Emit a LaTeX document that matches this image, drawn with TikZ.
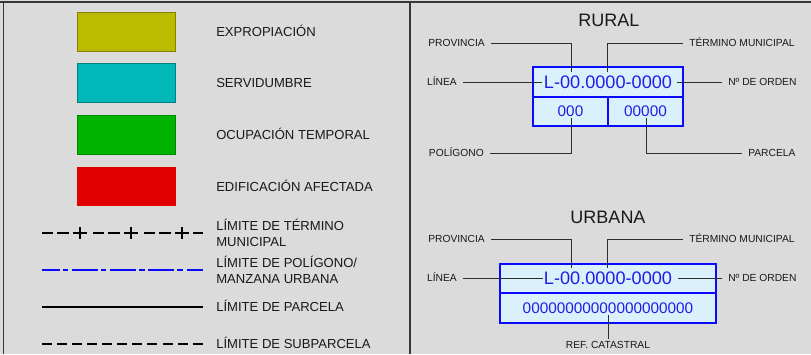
\documentclass[tikz,border=0pt]{standalone}
\usepackage{fontspec}
\setmainfont{Liberation Sans}
\usepackage{xcolor}
\usepackage{tikz}
\usetikzlibrary{positioning}
\definecolor{mygray}{RGB}{219,219,219}
\definecolor{myframe}{RGB}{55,55,55}
\definecolor{myyellow}{RGB}{187,187,0}
\definecolor{mycyan}{RGB}{0,184,184}
\definecolor{mygreen}{RGB}{0,180,0}
\definecolor{myred}{RGB}{224,0,0}
\definecolor{myblue}{RGB}{10,10,255}
\definecolor{codeblue}{RGB}{30,30,230}
\definecolor{cellfill}{RGB}{218,240,250}
\definecolor{mydark}{RGB}{25,25,25}
\definecolor{myleader}{RGB}{45,45,45}
\tikzset{
  swatch/.style={rectangle, minimum width=73.5pt, minimum height=29pt, inner sep=0pt, line width=0.6pt},
  legtext/.style={anchor=west, inner sep=0pt, font=\fontsize{9.8}{12}\selectfont, text=mydark},
  onerow/.style={text height=7pt, text depth=0pt},
  tag/.style={inner xsep=4.5pt, inner ysep=2pt, font=\fontsize{7.7}{9}\selectfont, text=mydark, text height=5.5pt, text depth=0pt},
  codebox/.style={rectangle, draw=myblue, fill=cellfill, line width=1.5pt, inner sep=0pt},
  code/.style={font=\fontsize{13.6}{16}\selectfont, text=codeblue, text height=9.7pt, text depth=0pt},
  cell/.style={font=\fontsize{11.5}{14}\selectfont, text=codeblue, text height=8.2pt, text depth=0pt},
  title/.style={inner sep=0pt, font=\fontsize{13.5}{16}\selectfont, text=mydark, text height=9.7pt, text depth=0pt},
  leader/.style={color=myleader, line width=0.75pt},
  legline/.style={line width=1.2pt}
}

\begin{document}
\begin{tikzpicture}[x=0.75pt, y=-0.75pt]
  \fill[mygray] (0,0) rectangle (811,354);
  \useasboundingbox (0,0) rectangle (811,354);

  % Frame
  \draw[myframe, line width=1.5pt] (0,1.5) -- (811,1.5);
  \draw[myframe, line width=1pt] (3.3,1.5) -- (3.3,354);
  \draw[myframe, line width=1.5pt] (410,1.5) -- (410,354);

  % Colour swatches
  \node[swatch, fill=myyellow, draw=myyellow!70!black] (expro) at (126.7,31.7) {};
  \node[swatch, fill=mycyan, draw=mycyan!70!black] (servi) at (126.7,83) {};
  \node[swatch, fill=mygreen, draw=mygreen!75!black] (ocupa) at (126.7,135) {};
  \node[swatch, fill=myred, draw=myred] (edifi) at (126.7,186.3) {};
  \node[legtext, onerow] (exprotext) at (216,32) {EXPROPIACIÓN};
  \node[legtext, onerow] (servitext) at (216,83) {SERVIDUMBRE};
  \node[legtext, onerow] (ocupatext) at (216,135) {OCUPACIÓN TEMPORAL};
  \node[legtext, onerow] (edifitext) at (216,186.5) {EDIFICACIÓN AFECTADA};

  % Boundary lines
  \foreach \s in {42,93,144} {
    \draw[legline] (\s,233) -- ++(11,0);
    \draw[legline] (\s+15,233) -- ++(12,0);
    \draw[legline] (\s+31,233) -- ++(14,0) (\s+38,227) -- ++(0,12);
  }
  \draw[legline] (193,233) -- (203,233);
  \draw[myblue, line width=1.6pt, dash pattern=on 19.5pt off 2.3pt on 4.1pt off 2.8pt, dash phase=6.3pt] (42,270) -- (203,270);
  \draw[legline] (42,307) -- (203,307);
  \draw[legline, dash pattern=on 7.5pt off 3.8pt] (42,344) -- (203,344);
  \node[legtext, align=left] (termtext) at (216,233) {LÍMITE DE TÉRMINO\\MUNICIPAL};
  \node[legtext, align=left] (poltext) at (216,270) {LÍMITE DE POLÍGONO/\\MANZANA URBANA};
  \node[legtext, onerow] (partext) at (216,307) {LÍMITE DE PARCELA};
  \node[legtext, onerow] (subtext) at (216,344) {LÍMITE DE SUBPARCELA};

  % Rural
  \node[title] (rural) at (609,20) {RURAL};
  \node[codebox, code, minimum width=112.5pt, minimum height=22.5pt] (rcode) at (608,82) {L-00.0000-0000};
  \node[codebox, cell, minimum width=56.25pt, minimum height=21.75pt] (rpol) at (570.5,111.5) {000};
  \node[codebox, cell, minimum width=56.25pt, minimum height=21.75pt] (rpar) at (645.5,111.5) {00000};

  \node[tag, anchor=east] (rprov) at (491,43) {PROVINCIA};
  \node[tag, anchor=west] (rterm) at (683,43) {TÉRMINO MUNICIPAL};
  \node[tag, anchor=east] (rlin) at (463,82) {LÍNEA};
  \node[tag, anchor=west] (rord) at (722,82) {Nº DE ORDEN};
  \node[tag, anchor=east] (rpoltag) at (490,153) {POLÍGONO};
  \node[tag, anchor=west] (rpartag) at (742,153) {PARCELA};
  \coordinate (rprovend) at (571,72);
  \coordinate (rtermend) at (607,72);
  \coordinate (rlinend) at (542,82);
  \coordinate (rordend) at (677,82);
  \coordinate (rpolend) at (571,118);
  \coordinate (rparend) at (646,118);
  \draw[leader] (rprov.east) -| (rprovend);
  \draw[leader] (rterm.west) -| (rtermend);
  \draw[leader] (rlin.east) -- (rlinend);
  \draw[leader] (rord.west) -- (rordend);
  \draw[leader] (rpoltag.east) -| (rpolend);
  \draw[leader] (rpartag.west) -| (rparend);

  % Urbana
  \node[title] (urbana) at (608,217) {URBANA};
  \node[codebox, code, minimum width=162pt, minimum height=21.75pt] (ucode) at (608,278.5) {L-00.0000-0000};
  \node[codebox, cell, minimum width=162pt, minimum height=22.5pt] (uref) at (608,308) {00000000000000000000};

  \node[tag, anchor=east] (uprov) at (491,239) {PROVINCIA};
  \node[tag, anchor=west] (uterm) at (683,239) {TÉRMINO MUNICIPAL};
  \node[tag, anchor=east] (ulin) at (463,278) {LÍNEA};
  \node[tag, anchor=west] (uord) at (722,278) {Nº DE ORDEN};
  \node[tag, anchor=north] (ureftag) at (608,338.5) {REF. CATASTRAL};
  \coordinate (uprovend) at (571,268);
  \coordinate (utermend) at (607,268);
  \coordinate (ulinend) at (543,278);
  \coordinate (uordend) at (678,278);
  \coordinate (urefend) at (608,315);
  \draw[leader] (uprov.east) -| (uprovend);
  \draw[leader] (uterm.west) -| (utermend);
  \draw[leader] (ulin.east) -- (ulinend);
  \draw[leader] (uord.west) -- (uordend);
  \draw[leader] (ureftag.north) -- (urefend);
\end{tikzpicture}
\end{document}
